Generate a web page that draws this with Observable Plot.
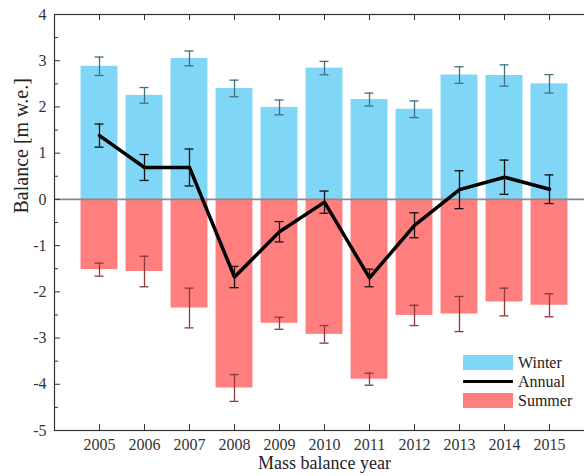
<!DOCTYPE html>
<html><head><meta charset="utf-8">
<script src="https://cdn.jsdelivr.net/npm/d3@7"></script>
<script src="https://cdn.jsdelivr.net/npm/@observablehq/plot@0.6"></script>
<style>
html,body{margin:0;padding:0;overflow:hidden;background:#fff;width:584px;height:476px}
#wrap{position:relative;width:594px;height:476px}
#wrap svg, #wrap svg text{font-family:"Liberation Serif","Times New Roman",serif !important}
.legend{position:absolute;left:463px;top:353px;font-family:"Liberation Serif","Times New Roman",serif;font-size:16px;color:#222;line-height:19px}
.row{display:flex;align-items:center;height:19px}
.sw{width:50px;height:15px;margin-right:5px}
.ln{width:50px;height:3.5px;background:#000;margin-right:5px}
</style></head>
<body><div id="wrap"></div>
<script>
const years = [2005, 2006, 2007, 2008, 2009, 2010, 2011, 2012, 2013, 2014, 2015];
const winter = [2.88, 2.25, 3.05, 2.40, 1.99, 2.84, 2.16, 1.95, 2.69, 2.68, 2.50];
const winterErr = [0.20, 0.17, 0.16, 0.18, 0.16, 0.145, 0.14, 0.18, 0.18, 0.23, 0.20];
const annual = [1.38, 0.69, 0.69, -1.68, -0.70, -0.06, -1.70, -0.56, 0.21, 0.48, 0.22];
const annualErr = [0.25, 0.28, 0.40, 0.23, 0.22, 0.24, 0.19, 0.27, 0.41, 0.37, 0.31];
const summer = [-1.52, -1.56, -2.35, -4.08, -2.68, -2.92, -3.89, -2.51, -2.48, -2.22, -2.29];
const summerErr = [0.14, 0.33, 0.43, 0.29, 0.13, 0.19, 0.13, 0.22, 0.38, 0.30, 0.25];
const yMajor = [-5, -4, -3, -2, -1, 0, 1, 2, 3, 4];
const yMinor = [-4.5, -3.5, -2.5, -1.5, -0.5, 0.5, 1.5, 2.5, 3.5];
const yLabel = "Balance [m w.e.]";
const xLabel = "Mass balance year";
const legendLabels = ["Winter", "Annual", "Summer"];

const rows = years.map((year, i) => ({
  year, winter: winter[i], wErr: winterErr[i], annual: annual[i], aErr: annualErr[i],
  summer: summer[i], sErr: summerErr[i]
}));

const W = 594, H = 476, mL = 54, mR = 0, mT = 14, mB = 46;
const FW = W - mL - mR, FH = H - mT - mB;
const hw = 0.41, cap = 0.1;
const colW = "#7fd6f6", colS = "#ff7f7f", errW = "#42707f", errS = "#8a3a3a";
const serif = '"Liberation Serif", "Times New Roman", serif';

const chart = Plot.plot({
  width: W, height: H,
  marginLeft: mL, marginRight: mR, marginTop: mT, marginBottom: mB,
  style: {fontFamily: serif, fontSize: "16px", color: "#333", background: "#fff"},
  x: {domain: [2004, 2016]},
  y: {domain: [-5, 4]},
  marks: [
    Plot.rectY(rows, {x1: d => d.year - hw, x2: d => d.year + hw, y1: 0, y2: "winter", fill: colW}),
    Plot.rectY(rows, {x1: d => d.year - hw, x2: d => d.year + hw, y1: 0, y2: "summer", fill: colS}),
    Plot.ruleX(rows, {x: "year", y1: d => d.winter - d.wErr, y2: d => d.winter + d.wErr, stroke: errW, strokeWidth: 1.3}),
    Plot.ruleY(rows, {y: d => d.winter - d.wErr, x1: d => d.year - cap, x2: d => d.year + cap, stroke: errW, strokeWidth: 1.3}),
    Plot.ruleY(rows, {y: d => d.winter + d.wErr, x1: d => d.year - cap, x2: d => d.year + cap, stroke: errW, strokeWidth: 1.3}),
    Plot.ruleX(rows, {x: "year", y1: d => d.summer - d.sErr, y2: d => d.summer + d.sErr, stroke: errS, strokeWidth: 1.3}),
    Plot.ruleY(rows, {y: d => d.summer - d.sErr, x1: d => d.year - cap, x2: d => d.year + cap, stroke: errS, strokeWidth: 1.3}),
    Plot.ruleY(rows, {y: d => d.summer + d.sErr, x1: d => d.year - cap, x2: d => d.year + cap, stroke: errS, strokeWidth: 1.3}),
    Plot.ruleY([0], {stroke: "#8a8a8a", strokeWidth: 1.6}),
    Plot.line(rows, {x: "year", y: "annual", stroke: "#000", strokeWidth: 3.5}),
    Plot.ruleX(rows, {x: "year", y1: d => d.annual - d.aErr, y2: d => d.annual + d.aErr, stroke: "#111", strokeWidth: 1.3}),
    Plot.ruleY(rows, {y: d => d.annual - d.aErr, x1: d => d.year - cap, x2: d => d.year + cap, stroke: "#111", strokeWidth: 1.3}),
    Plot.ruleY(rows, {y: d => d.annual + d.aErr, x1: d => d.year - cap, x2: d => d.year + cap, stroke: "#111", strokeWidth: 1.3}),
    Plot.frame({stroke: "#333", strokeWidth: 1.2}),
    Plot.tickY(yMajor, {y: d => d, insetRight: FW - 6, stroke: "#333", strokeWidth: 1}),
    Plot.tickY(yMinor, {y: d => d, insetRight: FW - 4, stroke: "#333", strokeWidth: 1}),
    Plot.tickX(years, {x: d => d, insetBottom: FH - 6, stroke: "#333", strokeWidth: 1}),
    Plot.tickX(years, {x: d => d, insetTop: FH - 6, stroke: "#333", strokeWidth: 1}),
    Plot.axisY({ticks: yMajor, tickSize: 0, tickPadding: 8, tickFormat: d => String(d), label: null, fill: "#333", fontFamily: serif, fontSize: 16}),
    Plot.axisX({ticks: years, tickSize: 0, tickPadding: 8, tickFormat: d => String(d), label: null, fill: "#333", fontFamily: serif, fontSize: 16}),
    Plot.text([yLabel], {text: d => d, frameAnchor: "left", rotate: -90, dx: -33, dy: -9, fill: "#222", fontSize: 20, fontFamily: serif}),
    Plot.text([xLabel], {text: d => d, frameAnchor: "bottom", dy: 38.5, fill: "#222", fontSize: 18, fontFamily: serif})
  ]
});
const wrap = document.getElementById("wrap");
wrap.appendChild(chart);
const lg = document.createElement("div");
lg.className = "legend";
lg.innerHTML =
  `<div class="row"><div class="sw" style="background:${colW}"></div>${legendLabels[0]}</div>` +
  `<div class="row"><div class="ln"></div>${legendLabels[1]}</div>` +
  `<div class="row"><div class="sw" style="background:${colS}"></div>${legendLabels[2]}</div>`;
wrap.appendChild(lg);
</script></body></html>
